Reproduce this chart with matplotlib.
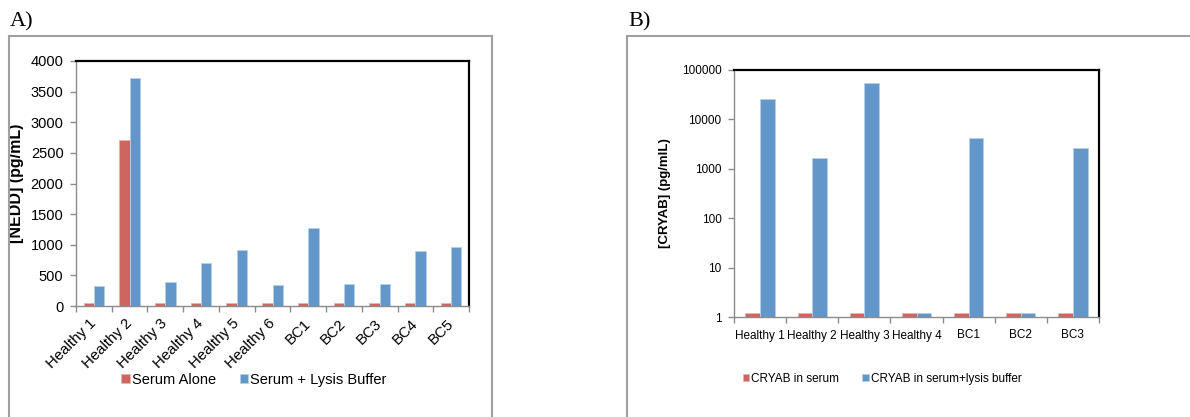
import matplotlib
matplotlib.use("Agg")
import matplotlib.pyplot as plt
import numpy as np
from matplotlib.patches import Rectangle

plt.rcParams['font.family'] = ['Liberation Sans', 'DejaVu Sans']

# Panel A: NEDD concentration
nedd_samples = ["Healthy 1", "Healthy 2", "Healthy 3", "Healthy 4", "Healthy 5",
                "Healthy 6", "BC1", "BC2", "BC3", "BC4", "BC5"]
nedd_serum = [45, 2710, 45, 45, 45, 45, 45, 45, 45, 45, 45]
nedd_lysis = [330, 3720, 390, 710, 920, 335, 1280, 365, 365, 900, 965]
nedd_ticks = [0, 500, 1000, 1500, 2000, 2500, 3000, 3500, 4000]

# Panel B: CRYAB concentration (log scale)
cryab_samples = ["Healthy 1", "Healthy 2", "Healthy 3", "Healthy 4", "BC1", "BC2", "BC3"]
cryab_serum = [1.2, 1.2, 1.2, 1.2, 1.2, 1.2, 1.2]
cryab_lysis = [25500, 1640, 55000, 1.2, 4300, 1.2, 2650]
cryab_ticks = [1, 10, 100, 1000, 10000, 100000]

RED = "#CD6660"
BLUE = "#6397C9"
RED_EDGE = "#E9B3AF"
BLUE_EDGE = "#B5CFE8"
GRAY = "#8C8C8C"

W, H = 1190, 417
fig = plt.figure(figsize=(W / 100, H / 100), dpi=100)


def px_axes(left, top, right, bottom):
    return fig.add_axes([left / W, 1 - bottom / H, (right - left) / W, (bottom - top) / H])


def style_axes(ax, n, fs):
    for side in ("top", "right"):
        ax.spines[side].set_color("black")
        ax.spines[side].set_linewidth(1.6)
    for side in ("left", "bottom"):
        ax.spines[side].set_color(GRAY)
        ax.spines[side].set_linewidth(1.0)
    ax.set_xlim(-0.5, n - 0.5)
    ax.set_xticks(np.arange(n + 1) - 0.5, minor=True)
    ax.tick_params(axis="x", which="minor", length=4, color=GRAY, width=1)
    ax.tick_params(axis="x", which="major", length=0)
    ax.tick_params(axis="y", which="major", length=4, color=GRAY, width=1,
                   labelsize=fs, pad=5)
    ax.tick_params(axis="y", which="minor", length=0)


# ---- Panel A ----
fig.patches.append(Rectangle((9 / W, -0.05), (492 - 9) / W, 1 - 36 / H + 0.05,
                             transform=fig.transFigure, fill=False,
                             edgecolor="#A0A0A0", linewidth=1.5))
fig.text(10 / W, 1 - 22 / H, "A)", family="Liberation Serif", fontsize=16,
         va="center", ha="left")

axA = px_axes(76, 61, 469, 306)
xa = np.arange(len(nedd_samples))
wa = 0.29
axA.bar(xa - wa / 2, nedd_serum, wa, color=RED, edgecolor=RED_EDGE, linewidth=0.6,
        label="Serum Alone")
axA.bar(xa + wa / 2, nedd_lysis, wa, color=BLUE, edgecolor=BLUE_EDGE, linewidth=0.6,
        label="Serum + Lysis Buffer")
style_axes(axA, len(nedd_samples), 10.5)
axA.set_ylim(0, 4000)
axA.set_yticks(nedd_ticks)
axA.set_xticks(xa)
axA.set_xticklabels(nedd_samples, rotation=45, ha="right", va="center",
                    rotation_mode="anchor", fontsize=10.8)
axA.tick_params(axis="x", which="major", pad=11)
axA.set_ylabel("[NEDD] (pg/mL)", fontsize=11.5, fontweight="bold")
axA.yaxis.set_label_coords(-0.132, 0.5)
axA.legend(loc="center", bbox_to_anchor=(254 / W, 1 - 380 / H),
           bbox_transform=fig.transFigure, ncol=2, frameon=False, fontsize=10.5,
           handlelength=0.6, handleheight=0.6, handletextpad=0.15,
           columnspacing=1.6, borderpad=0)

# ---- Panel B ----
fig.patches.append(Rectangle((627 / W, -0.05), 1.0, 1 - 36 / H + 0.05,
                             transform=fig.transFigure, fill=False,
                             edgecolor="#A0A0A0", linewidth=1.5))
fig.text(628 / W, 1 - 22 / H, "B)", family="Liberation Serif", fontsize=16,
         va="center", ha="left")

axB = px_axes(734, 70, 1099, 317)
xb = np.arange(len(cryab_samples))
wb = 0.28
axB.set_yscale("log")
serum_b = np.array(cryab_serum)
lysis_b = np.array(cryab_lysis)
axB.bar(xb - wb / 2, serum_b - 1, wb, bottom=1, color=RED, edgecolor=RED_EDGE,
        linewidth=0.6, label="CRYAB in serum")
axB.bar(xb + wb / 2, lysis_b - 1, wb, bottom=1, color=BLUE, edgecolor=BLUE_EDGE,
        linewidth=0.6, label="CRYAB in serum+lysis buffer")
style_axes(axB, len(cryab_samples), 8.5)
axB.set_ylim(1, 100000)
axB.set_yticks(cryab_ticks)
axB.set_yticklabels([str(t) for t in cryab_ticks])
axB.yaxis.set_minor_locator(matplotlib.ticker.NullLocator())
axB.set_xticks(xb)
axB.set_xticklabels(cryab_samples, fontsize=8.5)
axB.tick_params(axis="x", which="major", pad=9)
axB.set_ylabel("[CRYAB] (pg/mlL)", fontsize=9.5, fontweight="bold")
axB.yaxis.set_label_coords(-0.173, 0.5)
axB.legend(loc="center", bbox_to_anchor=(882 / W, 1 - 379 / H),
           bbox_transform=fig.transFigure, ncol=2, frameon=False, fontsize=8.5,
           handlelength=0.55, handleheight=0.55, handletextpad=0.15,
           columnspacing=2.0, borderpad=0)

fig.savefig("out.png", dpi=100)
